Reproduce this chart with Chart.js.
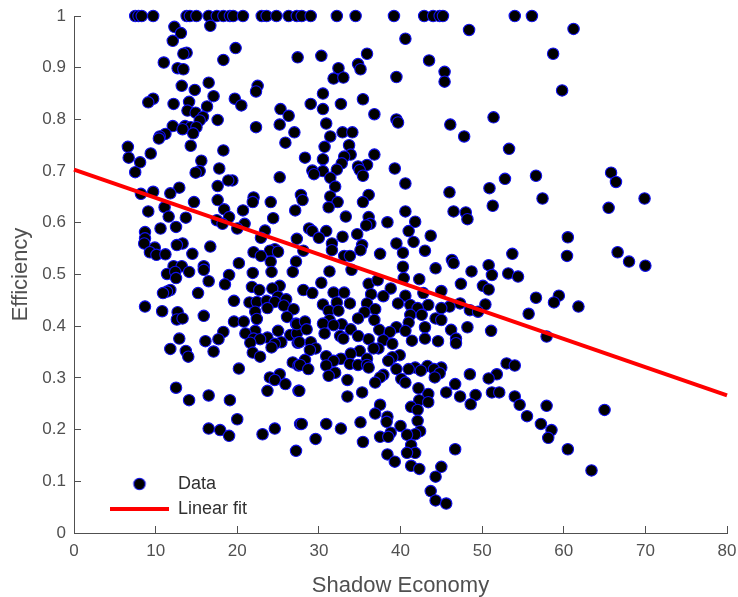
<!DOCTYPE html>
<html>
<head>
<meta charset="utf-8">
<style>html,body{margin:0;padding:0;background:#fff}#w{width:738px;height:597px;position:relative}</style>
<script src="https://cdn.jsdelivr.net/npm/chart.js@4/dist/chart.umd.min.js"></script>
</head>
<body>
<div id="w"><canvas id="c"></canvas></div>
<script>
const seriesNames = ["Data", "Linear fit"];
const xTitle = "Shadow Economy";
const yTitle = "Efficiency";
const fitX = [0, 80];
const fitY = [0.703, 0.266];
const topRowX = [7.5,7.9,8.3,9.7,13.8,14.2,15.0,16.5,17.5,18.3,19.1,19.5,20.7,23.0,23.6,24.8,26.3,27.3,27.9,29.0,32.2,34.5,39.2,42.9,44.0,44.8,45.2,54.0,56.1];
const pairsUpperLeft = [[12.3,.979],[16.7,.981],[13.1,.967],[12.1,.952],[19.8,.938],[13.8,.929],[13.4,.927],[18.3,.915],[11.0,.910],[12.7,.899],[13.4,.897],[27.4,.920],[16.5,.871],[13.2,.865],[22.5,.865],[22.3,.854],[14.8,.857],[17.1,.845],[9.7,.840],[9.1,.833],[19.7,.840],[14.1,.834],[12.2,.830],[20.5,.827],[16.3,.825],[25.3,.820],[13.9,.817],[14.9,.813],[26.3,.807],[15.8,.805],[17.6,.799],[15.4,.798],[25.2,.790],[12.1,.787],[13.6,.787],[14.3,.785],[15.0,.785],[13.3,.781],[22.3,.785],[14.6,.773],[11.2,.772],[27.0,.775],[10.5,.767],[10.4,.763],[25.9,.755],[14.3,.749],[6.6,.747],[18.3,.740],[9.4,.734],[6.7,.726],[15.6,.720],[8.1,.717],[17.8,.705],[7.5,.698],[15.4,.700],[14.9,.697],[25.2,.688],[19.4,.682],[18.9,.682],[17.6,.671],[12.9,.668],[11.8,.657],[9.7,.660],[8.2,.656],[22.0,.649],[17.6,.644],[21.9,.640],[14.7,.640],[24.1,.640],[11.1,.630],[18.4,.626],[9.1,.622],[27.1,.624],[20.7,.624],[11.6,.612],[13.7,.610],[19.0,.611],[24.4,.609],[17.5,.605],[18.2,.598],[20.9,.598],[12.5,.592],[10.6,.589],[20.0,.589],[23.4,.585],[8.7,.582],[22.9,.571],[27.3,.569],[8.7,.570],[8.6,.560],[13.3,.560],[12.6,.557],[16.7,.554],[9.9,.552],[24.6,.549],[24.0,.546],[25.0,.544],[22.0,.543],[22.9,.536],[9.3,.543],[10.1,.538],[11.2,.539],[14.5,.540],[24.1,.525],[20.2,.522],[27.2,.525],[12.2,.516],[13.2,.516],[15.9,.516]];
const pairsLowerLeft = [[11.4,.501],[12.4,.505],[14.1,.505],[12.5,.493],[15.9,.509],[19.0,.499],[21.9,.503],[24.2,.505],[26.8,.505],[16.5,.487],[18.5,.481],[21.8,.476],[25.2,.478],[24.3,.473],[22.7,.470],[11.8,.470],[11.4,.467],[10.9,.464],[15.2,.464],[25.0,.457],[26.0,.452],[19.6,.449],[21.5,.446],[22.4,.447],[23.6,.449],[24.6,.447],[8.7,.438],[25.7,.440],[23.7,.435],[26.9,.433],[10.8,.429],[12.7,.427],[22.2,.428],[15.9,.420],[26.1,.418],[12.6,.413],[13.3,.415],[22.4,.414],[19.6,.409],[20.8,.409],[27.2,.405],[18.3,.389],[25.0,.391],[22.2,.391],[21.0,.386],[26.5,.383],[27.3,.386],[23.7,.378],[12.9,.376],[22.0,.376],[22.8,.375],[17.7,.375],[16.1,.371],[21.6,.368],[25.4,.369],[24.6,.366],[27.4,.368],[24.2,.359],[11.8,.356],[13.7,.352],[17.1,.351],[21.9,.349],[14.0,.341],[22.8,.341],[26.8,.330],[27.5,.324],[20.2,.318],[25.2,.307],[24.0,.301],[24.6,.296],[25.9,.288],[12.5,.281],[23.7,.275],[27.5,.275],[16.5,.266],[14.1,.257],[19.1,.257],[20.0,.220],[27.7,.211],[16.5,.202],[17.9,.199],[19.0,.188],[24.6,.202],[23.1,.191],[27.2,.159]];
const pairsUpperMiddle = [[48.4,.973],[40.6,.956],[30.3,.923],[35.9,.927],[43.5,.914],[32.4,.899],[34.8,.907],[35.1,.897],[45.4,.892],[31.8,.879],[33.0,.881],[39.5,.882],[45.4,.873],[30.5,.850],[35.4,.839],[29.0,.830],[32.7,.830],[30.5,.820],[36.8,.810],[51.4,.804],[39.5,.800],[39.7,.794],[30.9,.792],[46.1,.790],[32.9,.775],[34.1,.775],[31.4,.767],[47.8,.767],[33.7,.750],[30.7,.747],[53.3,.743],[28.3,.726],[33.9,.732],[36.8,.732],[33.1,.728],[30.5,.723],[32.8,.715],[35.9,.712],[34.8,.709],[32.2,.703],[39.3,.705],[29.2,.701],[30.5,.700],[29.4,.694],[35.0,.702],[35.4,.691],[31.4,.687],[52.8,.685],[40.6,.676],[32.0,.670],[50.9,.667],[46.0,.659],[27.8,.654],[36.1,.654],[31.4,.651],[28.0,.644],[32.3,.640],[35.4,.640],[51.3,.633],[31.2,.630],[40.6,.622],[46.5,.622],[48.0,.620],[48.2,.607],[33.3,.612],[36.1,.611],[41.8,.602],[38.4,.601],[36.3,.598],[35.8,.595],[28.8,.589],[29.2,.584],[30.9,.584],[41.0,.584],[34.7,.578],[32.9,.573],[43.7,.575],[30.0,.571],[41.6,.563],[39.5,.560],[31.6,.560],[35.3,.557],[28.1,.546],[31.6,.547],[35.1,.547],[40.3,.542],[43.0,.546],[33.1,.536],[33.8,.536],[37.5,.540],[53.7,.540],[46.3,.528],[40.3,.515],[50.8,.518],[44.3,.512],[46.5,.522],[31.3,.506],[34.0,.509],[48.7,.506]];
const pairsLowerMiddle = [[40.4,.493],[42.3,.491],[51.2,.499],[53.2,.502],[54.4,.496],[30.3,.484],[36.1,.482],[37.2,.489],[47.4,.482],[50.1,.478],[50.8,.471],[28.1,.470],[31.8,.465],[29.2,.464],[33.1,.465],[38.8,.473],[36.4,.462],[37.9,.458],[45.0,.468],[40.6,.459],[42.8,.464],[30.5,.442],[32.2,.446],[33.8,.444],[35.9,.444],[39.7,.444],[41.2,.441],[43.4,.441],[47.3,.444],[50.4,.442],[46.0,.438],[45.0,.435],[42.1,.435],[31.2,.430],[32.4,.430],[36.9,.433],[35.6,.427],[48.5,.431],[49.5,.428],[55.7,.424],[41.2,.422],[42.6,.422],[34.8,.415],[36.8,.412],[44.3,.415],[45.0,.412],[31.3,.412],[27.3,.404],[28.3,.409],[32.8,.404],[41.0,.407],[30.5,.405],[31.8,.402],[28.5,.394],[39.5,.398],[43.0,.398],[48.2,.398],[46.2,.393],[51.1,.391],[33.9,.394],[37.4,.393],[38.7,.389],[40.6,.391],[30.7,.386],[32.6,.381],[34.8,.381],[36.1,.375],[37.9,.373],[43.0,.376],[41.4,.372],[46.8,.376],[33.0,.376],[27.6,.369],[29.0,.369],[44.6,.371],[46.8,.367],[39.0,.366],[29.6,.357],[28.9,.354],[37.3,.357],[35.0,.352],[36.7,.357],[33.9,.347],[39.9,.344],[30.9,.342],[32.7,.337],[35.9,.337],[39.0,.340],[38.5,.333],[28.3,.335],[31.8,.333],[33.8,.327],[34.8,.325],[35.9,.325],[27.7,.325],[30.9,.324],[36.1,.320],[28.7,.317],[43.3,.323],[41.8,.320],[41.0,.317],[42.5,.314],[39.5,.317],[45.0,.320],[44.1,.317],[53.0,.328],[54.0,.324],[32.0,.310],[31.2,.304],[48.5,.307],[51.8,.307],[44.8,.309],[37.9,.306],[37.5,.301],[44.2,.301],[50.8,.299],[33.5,.296],[40.1,.298],[36.9,.291],[40.6,.291],[27.6,.275],[46.7,.288],[42.2,.280],[35.3,.272],[45.6,.272],[33.5,.264],[43.4,.269],[51.2,.272],[52.1,.272],[47.3,.264],[49.2,.267],[42.3,.257],[43.4,.253],[54.0,.264],[48.6,.249],[54.6,.248],[37.5,.248],[41.3,.244],[42.1,.238],[55.5,.226],[36.9,.231],[38.4,.225],[38.3,.215],[42.1,.217],[35.1,.214],[27.9,.211],[30.9,.211],[32.7,.202],[40.0,.207],[42.4,.197],[41.8,.191],[38.8,.194],[40.8,.190],[37.5,.186],[38.5,.186],[29.6,.182],[35.4,.176],[41.3,.170],[46.7,.162],[41.8,.155],[40.8,.155],[38.4,.152],[39.3,.138],[41.3,.130],[42.3,.124],[45.0,.128],[44.3,.109],[43.7,.081],[44.3,.063],[45.6,.057]];
const pairsRight = [[61.2,.975],[58.7,.927],[59.8,.856],[56.6,.691],[65.8,.697],[66.4,.679],[57.4,.647],[69.9,.647],[65.5,.629],[60.5,.572],[60.4,.536],[66.6,.543],[68.0,.525],[70.0,.517],[56.6,.455],[59.4,.459],[58.8,.446],[61.8,.438],[57.9,.380],[57.9,.246],[65.0,.238],[57.2,.211],[58.5,.199],[58.1,.184],[60.5,.162],[63.4,.121]];

const observations = [
  ...topRowX.map(x => ({x, y: 1})),
  ...[...pairsUpperLeft, ...pairsLowerLeft, ...pairsUpperMiddle, ...pairsLowerMiddle, ...pairsRight].map(p => ({x: p[0], y: p[1]}))
];
const fitLine = fitX.map((x, i) => ({x, y: fitY[i]}));

const inkColor = "#505050";
const uiFont = "'Liberation Sans', Arial, sans-serif";

const legendMarker = document.createElement("canvas");
legendMarker.width = 16; legendMarker.height = 16;
{
  const g = legendMarker.getContext("2d");
  g.beginPath(); g.arc(8, 8, 5.7, 0, Math.PI * 2);
  g.fillStyle = "#000"; g.fill();
  g.lineWidth = 1.1; g.strokeStyle = "#1010ee"; g.stroke();
}

const legendPlace = {
  id: "legendPlace",
  afterLayout(chart) {
    const l = chart.legend;
    l.left = 110 - l.options.labels.padding;
    l.bottom = 525;
  }
};

new Chart(document.getElementById("c"), {
  type: "scatter",
  data: {
    datasets: [
      {
        label: seriesNames[0], data: observations, order: 1, clip: false,
        backgroundColor: "#000", borderColor: "#1010ee", borderWidth: 1.1,
        pointRadius: 5.7, pointHoverRadius: 5.7
      },
      {
        label: seriesNames[1], data: fitLine, order: 0, showLine: true, clip: false,
        borderColor: "#ff0000", backgroundColor: "#ff0000", borderWidth: 4,
        pointRadius: 0, pointHoverRadius: 0, pointStyle: "line"
      }
    ]
  },
  options: {
    responsive: true, maintainAspectRatio: false, animation: false,
    layout: {padding: {top: 16, right: 11, left: 0, bottom: 0}},
    plugins: {
      tooltip: {enabled: false},
      legend: {
        position: "chartArea", align: "end",
        labels: {
          usePointStyle: true, pointStyleWidth: 59, boxHeight: 12, padding: 7,
          color: "#303030", font: {family: uiFont, size: 18},
          sort: (a, b) => a.datasetIndex - b.datasetIndex,
          generateLabels(chart) {
            const items = Chart.defaults.plugins.legend.labels.generateLabels(chart);
            items.forEach(it => { if (it.datasetIndex === 0) it.pointStyle = legendMarker; });
            return items;
          }
        }
      }
    },
    scales: {
      x: {
        type: "linear", min: 0, max: 80,
        afterFit(s) { s.height = 64; s.paddingLeft = 0; s.paddingRight = 0; },
        border: {color: inkColor, width: 1},
        grid: {drawOnChartArea: false, color: inkColor, tickLength: -7},
        ticks: {stepSize: 10, color: inkColor, font: {family: uiFont, size: 17}, padding: 15, maxRotation: 0},
        title: {display: true, text: xTitle, color: inkColor, font: {family: uiFont, size: 22}, padding: {top: 2, bottom: -2}}
      },
      y: {
        type: "linear", min: 0, max: 1,
        afterFit(s) { s.width = 74; s.paddingTop = 0; s.paddingBottom = 0; },
        border: {color: inkColor, width: 1},
        grid: {drawOnChartArea: false, color: inkColor, tickLength: -7},
        ticks: {stepSize: 0.1, color: inkColor, font: {family: uiFont, size: 17}, padding: 15,
          callback: v => String(+v.toFixed(1))},
        title: {display: true, text: yTitle, color: inkColor, font: {family: uiFont, size: 22}, padding: {top: 8, bottom: 0}}
      }
    }
  },
  plugins: [legendPlace]
});
</script>
</body>
</html>
